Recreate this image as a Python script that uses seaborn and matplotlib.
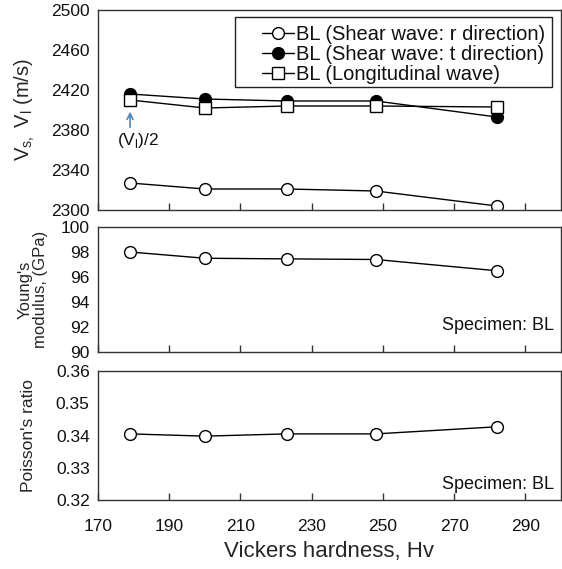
"""Velocities, Young's modulus and Poisson's ratio vs Vickers hardness"""

import matplotlib
matplotlib.use("Agg")
import seaborn as sns
import matplotlib.pyplot as plt
from matplotlib.patches import Rectangle

hardness = [179, 200, 223, 248, 282]
vs_r = [2327, 2321, 2321, 2319, 2304]
vs_t = [2416, 2411, 2409, 2409, 2393]
vl_half = [2410, 2402, 2404, 2404, 2403]
youngs = [98.0, 97.5, 97.45, 97.4, 96.5]
poisson = [0.3405, 0.3398, 0.3405, 0.3405, 0.3427]

sns.set_theme(style="ticks")
plt.rcParams["font.family"] = ["Liberation Sans", "DejaVu Sans"]
plt.rcParams["mathtext.fontset"] = "custom"
plt.rcParams["mathtext.rm"] = "Liberation Sans"
plt.rcParams["axes.edgecolor"] = "#333333"
plt.rcParams["axes.linewidth"] = 1.0
plt.rcParams["xtick.direction"] = "in"
plt.rcParams["ytick.direction"] = "in"
plt.rcParams["xtick.color"] = "#333333"
plt.rcParams["ytick.color"] = "#333333"
plt.rcParams["text.color"] = "#111111"
plt.rcParams["xtick.labelcolor"] = "#111111"
plt.rcParams["ytick.labelcolor"] = "#111111"

W, H = 562, 569
fig = plt.figure(figsize=(W / 100, H / 100), dpi=100)
fig.patch.set_facecolor("white")


def box(x0, y0, x1, y1):
    # pixel box -> figure fraction
    return [x0 / W, 1 - y1 / H, (x1 - x0) / W, (y1 - y0) / H]


ax1 = fig.add_axes(box(98, 10, 561, 210))
ax2 = fig.add_axes(box(98, 227, 561, 352))
ax3 = fig.add_axes(box(98, 371, 561, 500))

line_kw = dict(color="black", linewidth=1.0, markersize=8.5, markeredgecolor="black",
               markeredgewidth=1.0)

sns.lineplot(x=hardness, y=vs_r, ax=ax1, marker="o", markerfacecolor="white",
             label="BL (Shear wave: r direction)", **line_kw)
sns.lineplot(x=hardness, y=vs_t, ax=ax1, marker="o", markerfacecolor="black",
             label="BL (Shear wave: t direction)", **line_kw)
sns.lineplot(x=hardness, y=vl_half, ax=ax1, marker="s", markerfacecolor="white",
             label="BL (Longitudinal wave)", **line_kw)
sns.lineplot(x=hardness, y=youngs, ax=ax2, marker="o", markerfacecolor="white", **line_kw)
sns.lineplot(x=hardness, y=poisson, ax=ax3, marker="o", markerfacecolor="white", **line_kw)

ax1.set_ylim(2300, 2500)
ax1.set_yticks([2300, 2340, 2380, 2420, 2460, 2500])
ax2.set_ylim(90, 100)
ax2.set_yticks([90, 92, 94, 96, 98, 100])
ax3.set_ylim(0.32, 0.36)
ax3.set_yticks([0.32, 0.33, 0.34, 0.35, 0.36])
ax3.set_yticklabels(["0.32", "0.33", "0.34", "0.35", "0.36"])

for ax in (ax1, ax2, ax3):
    ax.set_xlim(170, 300)
    ax.set_xticks([170, 190, 210, 230, 250, 270, 290])
    ax.tick_params(axis="x", length=5, width=1.0, labelsize=12.5, pad=14)
    ax.tick_params(axis="y", length=0, labelsize=12.5, pad=6)
    ax.set_xlabel("")
ax1.tick_params(axis="x", labelbottom=False)
ax2.tick_params(axis="x", labelbottom=False)

ax1.set_ylabel(r"V$_{\mathrm{s,}}$ V$_{\mathrm{l}}$ (m/s)", fontsize=14.5)
ax2.set_ylabel("Young's\nmodulus, (GPa)", fontsize=12, linespacing=1.05)
ax3.set_ylabel("Poisson's ratio", fontsize=12.5)
ax1.yaxis.set_label_coords(-0.132, 0.5)
ax2.yaxis.set_label_coords(-0.108, 0.5)
ax3.yaxis.set_label_coords(-0.134, 0.5)
ax3.set_xlabel("Vickers hardness, Hv", fontsize=16, labelpad=5)

# legend without its own frame; the box is drawn separately (wide left margin)
leg = ax1.legend(loc="upper right", bbox_to_anchor=(0.9654, 0.925), fontsize=14.5,
                 frameon=False, handlelength=1.6, handletextpad=0.1,
                 labelspacing=0.05, borderpad=0, borderaxespad=0)
ax1.add_patch(Rectangle((0.296, 0.615), 0.685, 0.35, transform=ax1.transAxes,
                        fill=False, edgecolor="#222222", linewidth=1.0, zorder=5))

ax1.annotate("", xy=(hardness[0], 2401), xytext=(hardness[0], 2380),
             arrowprops=dict(arrowstyle="->,head_length=0.35,head_width=0.18",
                             color="#4f86b8", lw=1.2))
ax1.text(hardness[0] - 3.8, 2369, r"(V$_{\mathrm{l}}$)/2", fontsize=12.5, va="center",
         ha="left")

ax2.text(0.985, 0.21, "Specimen: BL", transform=ax2.transAxes, ha="right", va="center",
         fontsize=13)
ax3.text(0.985, 0.12, "Specimen: BL", transform=ax3.transAxes, ha="right", va="center",
         fontsize=13)

plt.savefig("out.png", dpi=100, facecolor="white")
